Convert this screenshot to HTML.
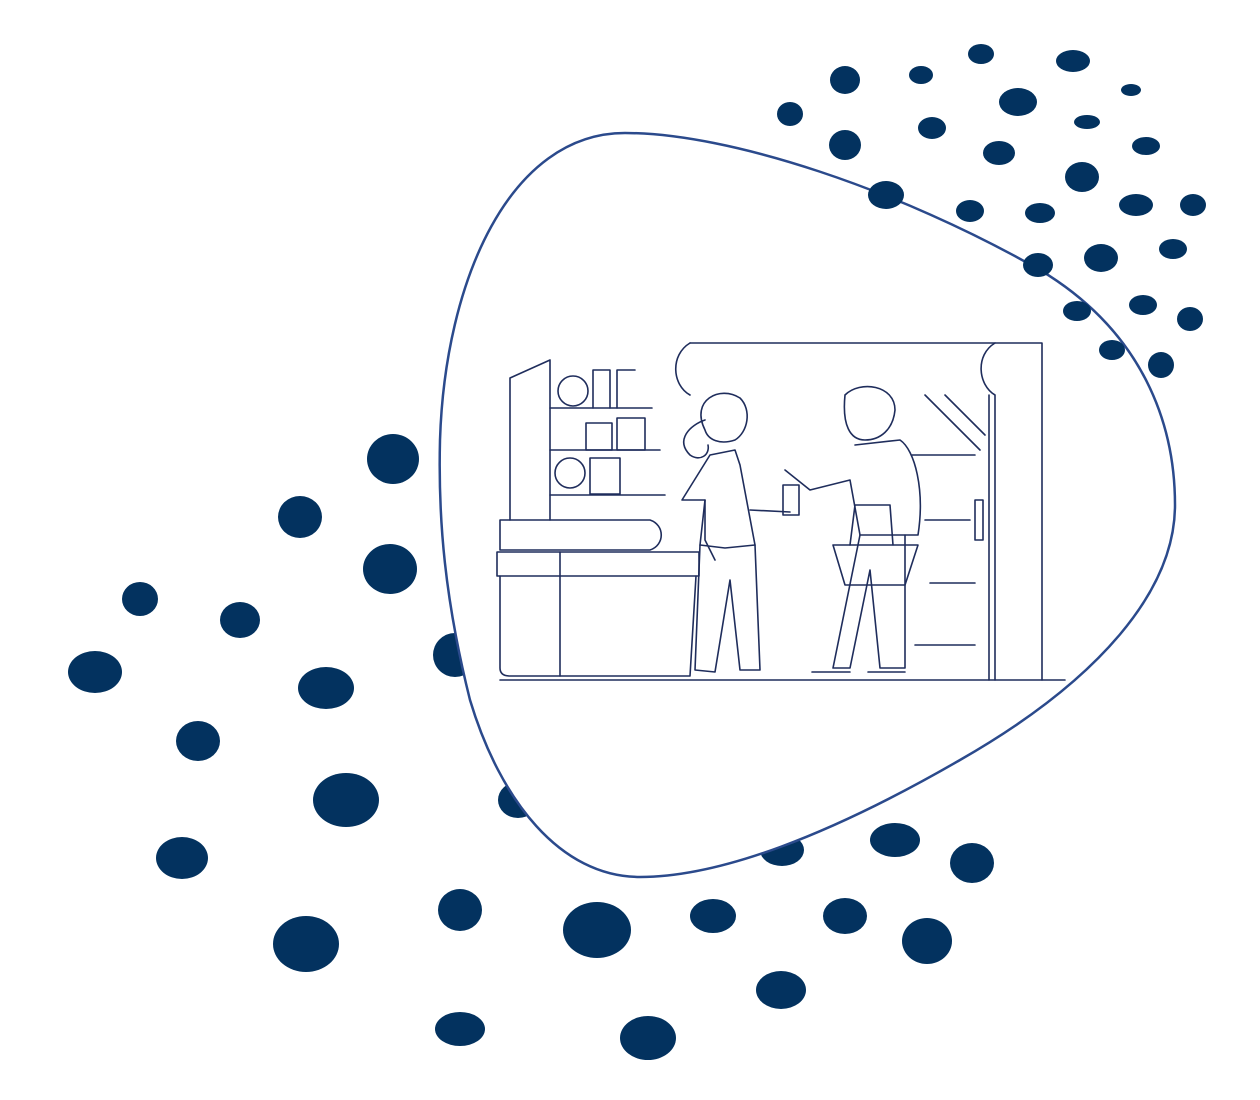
<!DOCTYPE html>
<html><head><meta charset="utf-8"><style>
html,body{margin:0;padding:0;background:#fff;width:1260px;height:1100px;overflow:hidden}
svg{display:block}
</style></head><body>
<svg width="1260" height="1100" viewBox="0 0 1260 1100" xmlns="http://www.w3.org/2000/svg">
<g fill="#03325f">
<ellipse cx="393" cy="459" rx="26" ry="25"/>
<ellipse cx="300" cy="517" rx="22" ry="21"/>
<ellipse cx="390" cy="569" rx="27" ry="25"/>
<ellipse cx="140" cy="599" rx="18" ry="17"/>
<ellipse cx="240" cy="620" rx="20" ry="18"/>
<ellipse cx="95" cy="672" rx="27" ry="21"/>
<ellipse cx="455" cy="655" rx="22" ry="22"/>
<ellipse cx="326" cy="688" rx="28" ry="21"/>
<ellipse cx="198" cy="741" rx="22" ry="20"/>
<ellipse cx="346" cy="800" rx="33" ry="27"/>
<ellipse cx="518" cy="800" rx="20" ry="18"/>
<ellipse cx="182" cy="858" rx="26" ry="21"/>
<ellipse cx="782" cy="850" rx="22" ry="16"/>
<ellipse cx="895" cy="840" rx="25" ry="17"/>
<ellipse cx="972" cy="863" rx="22" ry="20"/>
<ellipse cx="460" cy="910" rx="22" ry="21"/>
<ellipse cx="306" cy="944" rx="33" ry="28"/>
<ellipse cx="597" cy="930" rx="34" ry="28"/>
<ellipse cx="713" cy="916" rx="23" ry="17"/>
<ellipse cx="845" cy="916" rx="22" ry="18"/>
<ellipse cx="927" cy="941" rx="25" ry="23"/>
<ellipse cx="781" cy="990" rx="25" ry="19"/>
<ellipse cx="460" cy="1029" rx="25" ry="17"/>
<ellipse cx="648" cy="1038" rx="28" ry="22"/>
</g>
<path d="M625,133 C730,133 900,190 1040,270 C1140,330 1175,420 1175,505 C1175,590 1100,680 960,760 C830,835 720,877 640,877 C560,877 500,800 470,700 C445,600 438,520 440,440 C445,280 510,133 625,133 Z" fill="#fff" stroke="#2b4a8c" stroke-width="2.5"/>
<g fill="#03325f">
<ellipse cx="790" cy="114" rx="13" ry="12"/>
<ellipse cx="845" cy="80" rx="15" ry="14"/>
<ellipse cx="921" cy="75" rx="12" ry="9"/>
<ellipse cx="981" cy="54" rx="13" ry="10"/>
<ellipse cx="1073" cy="61" rx="17" ry="11"/>
<ellipse cx="1131" cy="90" rx="10" ry="6"/>
<ellipse cx="1018" cy="102" rx="19" ry="14"/>
<ellipse cx="845" cy="145" rx="16" ry="15"/>
<ellipse cx="932" cy="128" rx="14" ry="11"/>
<ellipse cx="1087" cy="122" rx="13" ry="7"/>
<ellipse cx="1146" cy="146" rx="14" ry="9"/>
<ellipse cx="999" cy="153" rx="16" ry="12"/>
<ellipse cx="886" cy="195" rx="18" ry="14"/>
<ellipse cx="970" cy="211" rx="14" ry="11"/>
<ellipse cx="1082" cy="177" rx="17" ry="15"/>
<ellipse cx="1040" cy="213" rx="15" ry="10"/>
<ellipse cx="1136" cy="205" rx="17" ry="11"/>
<ellipse cx="1193" cy="205" rx="13" ry="11"/>
<ellipse cx="1038" cy="265" rx="15" ry="12"/>
<ellipse cx="1101" cy="258" rx="17" ry="14"/>
<ellipse cx="1173" cy="249" rx="14" ry="10"/>
<ellipse cx="1077" cy="311" rx="14" ry="10"/>
<ellipse cx="1143" cy="305" rx="14" ry="10"/>
<ellipse cx="1190" cy="319" rx="13" ry="12"/>
<ellipse cx="1112" cy="350" rx="13" ry="10"/>
<ellipse cx="1161" cy="365" rx="13" ry="13"/>
</g>
<g fill="none" stroke="#1f2d5c" stroke-width="1.6" stroke-linecap="round" stroke-linejoin="round">
<line x1="500" y1="680" x2="1065" y2="680"/>
<path d="M690,343 L1042,343 L1042,680"/>
<path d="M690,343 C670,355 672,385 690,395"/>
<path d="M995,343 C975,355 978,385 995,395 L995,680"/>
<line x1="989" y1="395" x2="989" y2="680"/>
<line x1="925" y1="395" x2="980" y2="450"/><line x1="945" y1="395" x2="985" y2="435"/>
<rect x="975" y="500" width="8" height="40"/>
<line x1="912" y1="455" x2="975" y2="455"/><line x1="925" y1="520" x2="970" y2="520"/>
<line x1="930" y1="583" x2="975" y2="583"/><line x1="915" y1="645" x2="975" y2="645"/>
<path d="M510,520 L510,378 L550,360 L550,520"/>
<line x1="550" y1="408" x2="652" y2="408"/><line x1="550" y1="450" x2="660" y2="450"/><line x1="550" y1="495" x2="665" y2="495"/>
<circle cx="573" cy="391" r="15"/><path d="M593,408 L593,370 L610,370 L610,408 M617,408 L617,370 L635,370"/>
<rect x="586" y="423" width="26" height="27"/><rect x="617" y="418" width="28" height="32"/>
<circle cx="570" cy="473" r="15"/><rect x="590" y="458" width="30" height="36"/>
<path d="M500,520 L650,520 C665,525 665,545 650,550 L500,550 Z"/>
<rect x="497" y="552" width="202" height="24"/>
<path d="M500,576 L500,668 Q500,676 510,676 L690,676 L696,576"/>
<line x1="560" y1="552" x2="560" y2="676"/>
<path d="M705,430 C690,400 720,385 740,398 C752,410 748,432 735,440 C720,445 708,440 705,430"/>
<path d="M705,420 C690,425 675,440 690,455 C700,462 710,455 708,445"/>
<path d="M710,455 L735,450 L740,465 L755,545 L725,548 L700,545 L705,500 L682,500 Z"/>
<path d="M700,545 L695,670 L715,672 L730,580 L740,670 L760,670 L755,545"/>
<path d="M750,510 L790,512 M705,500 L705,540 L715,560"/>
<rect x="783" y="485" width="16" height="30"/>
<path d="M845,395 C860,380 895,385 895,410 C893,430 880,440 865,440 C850,440 842,425 845,395"/>
<path d="M855,445 L900,440 C915,450 925,490 918,535 L860,535 L850,480 L810,490 L785,470"/>
<path d="M860,535 L833,668 L850,668 L870,570 L880,668 L905,668 L905,535"/>
<path d="M833,545 L918,545 L905,585 L845,585 Z"/>
<path d="M850,545 L855,505 L890,505 L893,545"/>
<path d="M812,672 L850,672 M868,672 L905,672"/>
</g>
</svg>
</body></html>
